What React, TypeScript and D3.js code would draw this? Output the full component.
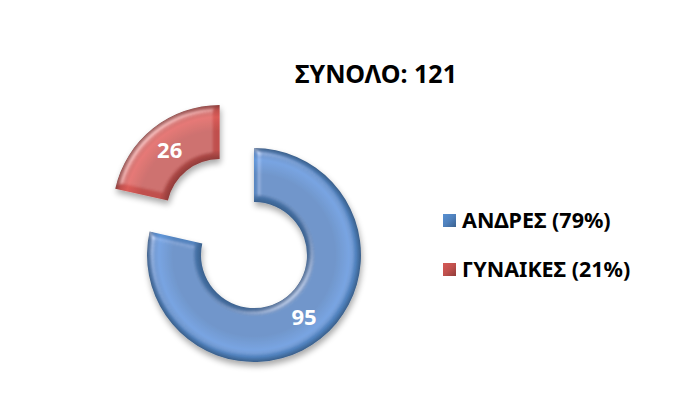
import { useMemo } from 'react';
import * as d3 from 'd3';

const categories = ['ΑΝΔΡΕΣ', 'ΓΥΝΑΙΚΕΣ'];
const values = [95, 26];
const colors = ['#4F81BD', '#C0504D'];
const explode = [0, 55];
const title = 'ΣΥΝΟΛΟ: ';

const W = 689;
const H = 413;
const FONT = '"Noto Sans", "DejaVu Sans", sans-serif';

export default function App() {
  const cx = 254;
  const cy = 255;
  const outerR = 107;
  const innerR = 53;
  const total = d3.sum(values);

  const arcs = useMemo(() => d3.pie<number>().sort(null)(values), []);
  const arcGen = d3.arc<d3.PieArcDatum<number>>().innerRadius(innerR).outerRadius(outerR);
  const labelArc = d3.arc<d3.PieArcDatum<number>>().innerRadius(80).outerRadius(80);

  // darker / lighter variants for the bevel shading
  const shade = (c: string, k: number) => d3.color(c)!.darker(k).formatHex();
  const tint = (c: string, k: number) => d3.color(c)!.brighter(k).formatHex();
  const ringStop = (r: number) => r / outerR;

  return (
    <svg width={W} height={H} viewBox={`0 0 ${W} ${H}`}
      style={{ position: 'absolute', left: 0, top: 0, background: '#fff' }}>
      <defs>
        {colors.map((c, i) => (
          <radialGradient key={i} id={`ring${i}`} gradientUnits="userSpaceOnUse" cx={0} cy={0} r={outerR}>
            <stop offset={ringStop(innerR)} stopColor={shade(c, 0.8)} />
            <stop offset={ringStop(innerR + 9)} stopColor={c} />
            <stop offset={ringStop(innerR + 28)} stopColor={c} />
            <stop offset={ringStop(outerR - 12)} stopColor={tint(c, 0.35)} />
            <stop offset={ringStop(outerR - 5)} stopColor={c} />
            <stop offset={1} stopColor={shade(c, 0.9)} />
          </radialGradient>
        ))}
        {colors.map((c, i) => (
          <linearGradient key={i} id={`mark${i}`} x1="0" y1="0" x2="1" y2="1">
            <stop offset="0" stopColor={tint(c, 0.3)} />
            <stop offset="0.5" stopColor={c} />
            <stop offset="1" stopColor={shade(c, 0.8)} />
          </linearGradient>
        ))}
        <filter id="bevel" x="-20%" y="-20%" width="140%" height="150%">
          <feGaussianBlur in="SourceAlpha" stdDeviation="3" result="blur" />
          <feSpecularLighting in="blur" surfaceScale="4" specularConstant="0.6" specularExponent="18"
            lightingColor="#ffffff" result="spec">
            <feDistantLight azimuth="225" elevation="45" />
          </feSpecularLighting>
          <feComposite in="spec" in2="SourceAlpha" operator="in" result="specOut" />
          <feComposite in="SourceGraphic" in2="specOut" operator="arithmetic" k1="0" k2="1" k3="0.6" k4="0" result="lit" />
          <feGaussianBlur in="SourceAlpha" stdDeviation="3" result="sb" />
          <feOffset in="sb" dx="1" dy="4" result="so" />
          <feComponentTransfer in="so" result="shadow">
            <feFuncA type="linear" slope="0.35" />
          </feComponentTransfer>
          <feMerge>
            <feMergeNode in="shadow" />
            <feMergeNode in="lit" />
          </feMerge>
        </filter>
      </defs>

      <text x={376} y={83} textAnchor="middle" fontFamily={FONT} fontWeight="bold" fontSize={25} fill="#000">
        {title}{total}
      </text>

      {arcs.map((a, i) => {
        const mid = (a.startAngle + a.endAngle) / 2;
        const dx = Math.sin(mid) * explode[i];
        const dy = -Math.cos(mid) * explode[i];
        const [lx, ly] = labelArc.centroid(a);
        return (
          <g key={i} transform={`translate(${cx + dx},${cy + dy})`}>
            <path d={arcGen(a) || ''} fill={`url(#ring${i})`} filter="url(#bevel)" />
            <text x={lx} y={ly} dy="0.36em" textAnchor="middle" fontFamily={FONT} fontWeight="bold"
              fontSize={22} fill="#fff">
              {values[i]}
            </text>
          </g>
        );
      })}

      {categories.map((name, i) => {
        const y = 228 + i * 49;
        return (
          <g key={name} transform={`translate(443,${y})`}>
            <rect x={0} y={-14} width={13} height={13} fill={`url(#mark${i})`} />
            <text x={19} y={0} fontFamily={FONT} fontWeight="bold" fontSize={21.5} fill="#000">
              {name} ({Math.round((values[i] / total) * 100)}%)
            </text>
          </g>
        );
      })}
    </svg>
  );
}
